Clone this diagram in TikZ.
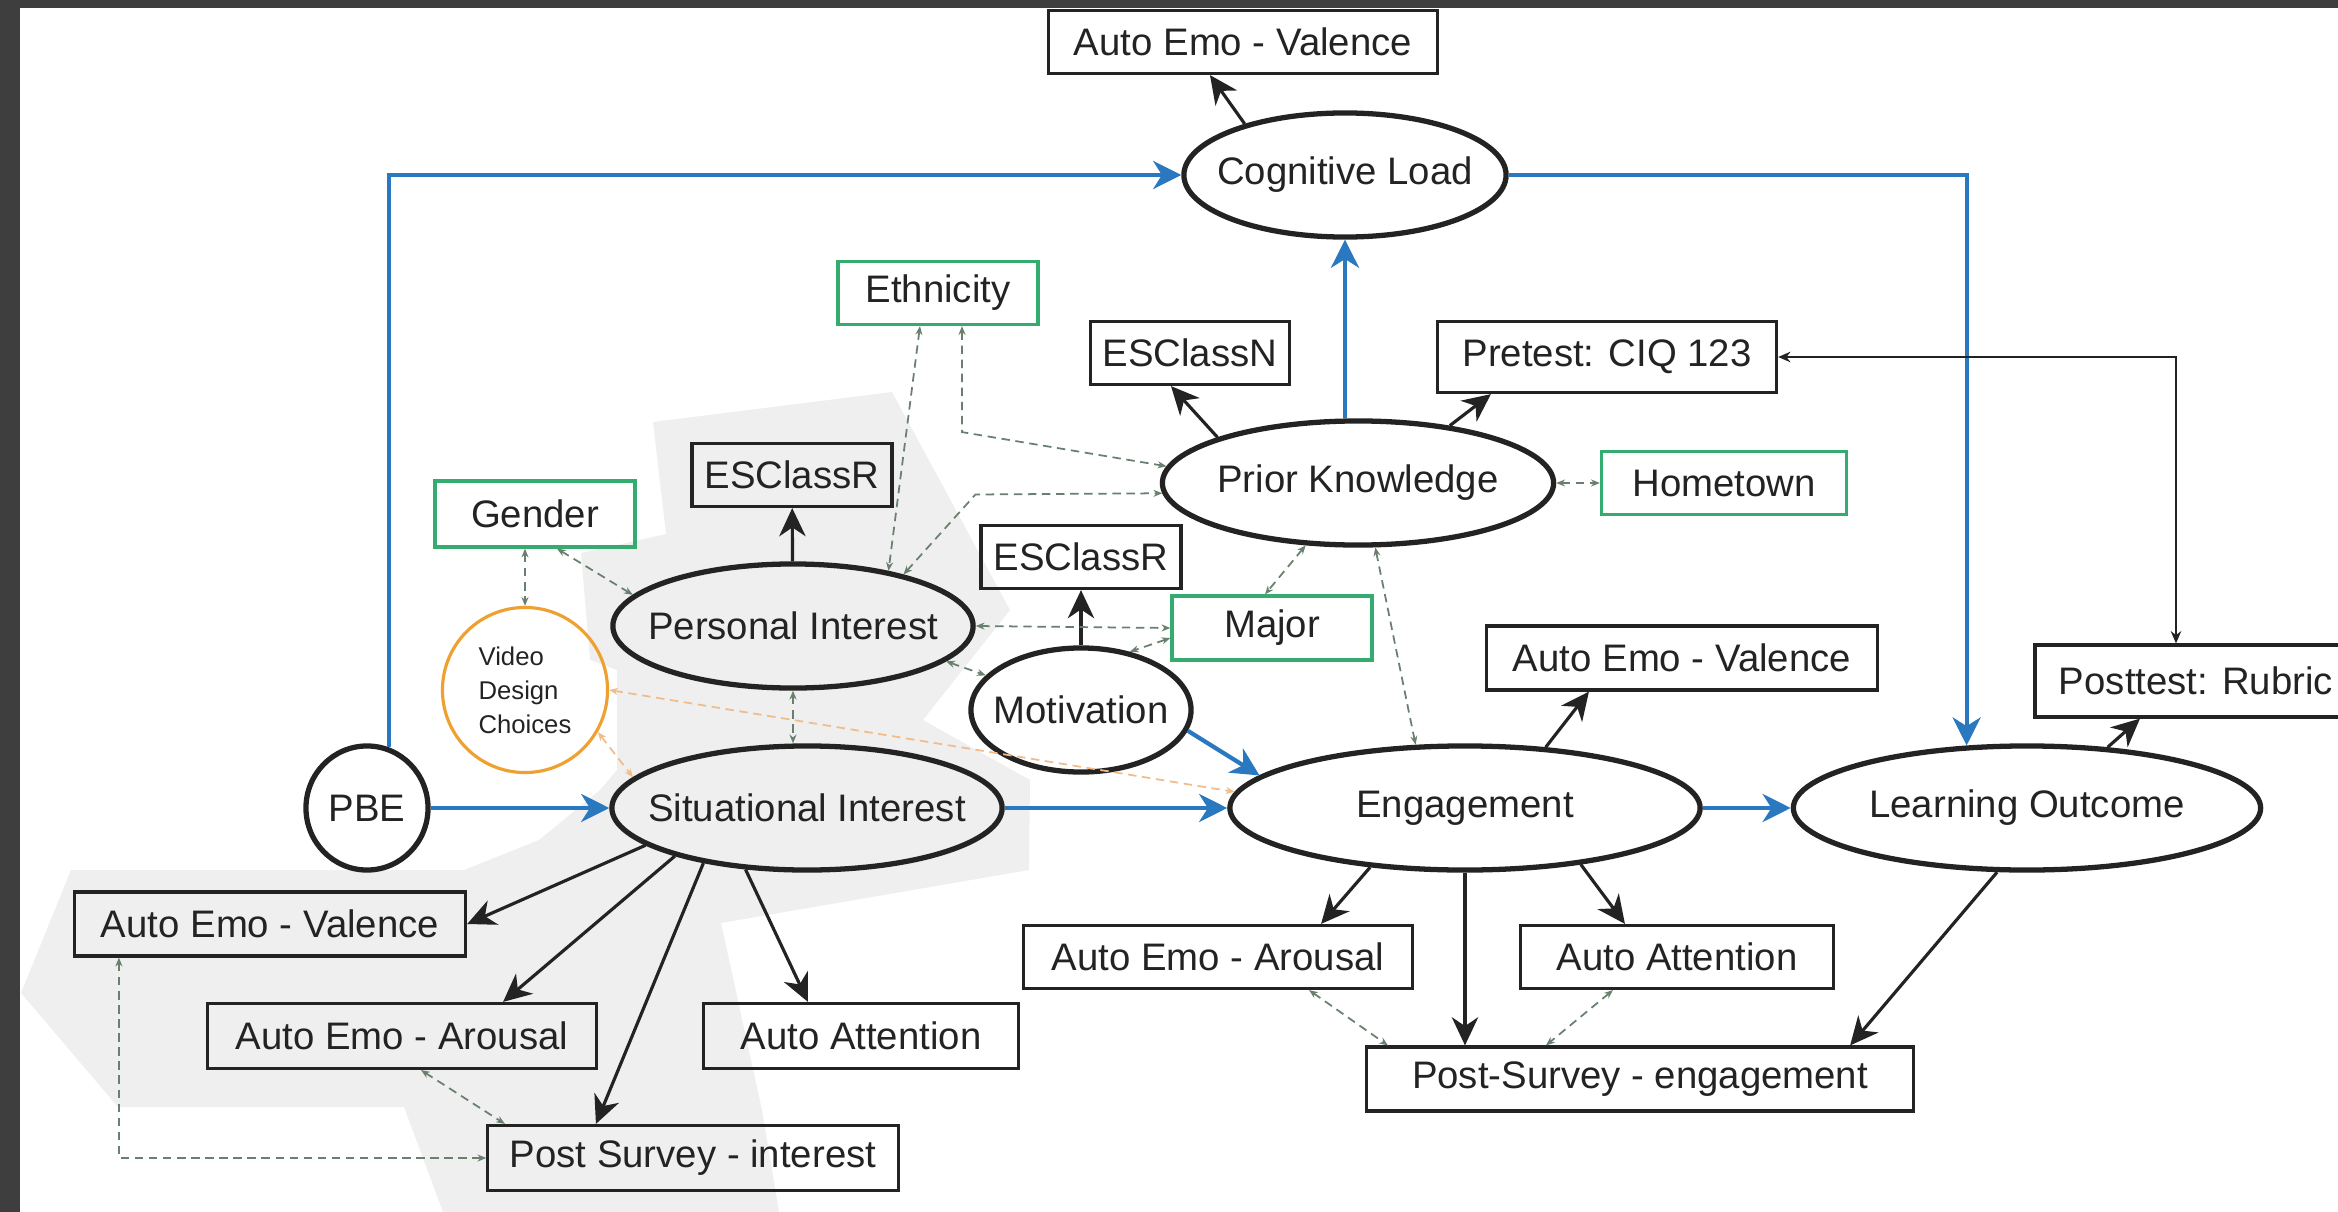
\documentclass[tikz,border=0pt]{standalone}
\usepackage{fontspec}
\setmainfont{Liberation Sans}
\usepackage{xcolor}
\usepackage{tikz}
\usetikzlibrary{positioning}
\usetikzlibrary{shapes.geometric}
\usetikzlibrary{arrows.meta}

\definecolor{pathblue}{RGB}{42,120,192}
\definecolor{demogreen}{RGB}{52,172,112}
\definecolor{designorange}{RGB}{238,160,48}
\definecolor{linkgray}{RGB}{105,128,110}
\definecolor{linkorange}{RGB}{240,188,138}
\definecolor{shadegray}{RGB}{239,239,239}
\definecolor{framegray}{RGB}{62,62,62}
\definecolor{inkgray}{RGB}{35,35,35}

\tikzset{
  latent/.style={ellipse, draw=inkgray, line width=1.5pt, inner xsep=-0.3cm, inner ysep=0pt, minimum height=1.24cm, text=inkgray},
  measure/.style={rectangle, draw=inkgray, line width=0.9pt, inner sep=0pt, minimum height=0.63cm, text=inkgray},
  demo/.style={measure, draw=demogreen},
  bluepath/.style={draw=pathblue, line width=1.2pt, arrows={-Stealth[length=8pt,width=8pt,inset=2.5pt]}},
  blackpath/.style={draw=inkgray, line width=0.9pt, arrows={-Stealth[length=8pt,width=7.5pt,inset=2.5pt]}},
  thinpath/.style={draw=inkgray, line width=0.45pt, arrows={Stealth[length=3.5pt,width=3pt]-Stealth[length=3.5pt,width=3pt]}},
  covlink/.style={draw=linkgray, line width=0.5pt, dash pattern=on 2.4pt off 1.6pt, arrows={Stealth[length=2.5pt,width=2pt]-Stealth[length=2.5pt,width=2pt]}},
  designlink/.style={covlink, draw=linkorange},
}

\begin{document}
\begin{tikzpicture}[x=0.01cm, y=-0.01cm, font=\fontsize{10.9}{13}\selectfont]
	\useasboundingbox (0,0) rectangle (2338,1212);
	\clip (0,0) rectangle (2338,1212);
	\fill[shadegray] (653,422) -- (892,392) -- (1010,610) -- (923,720) -- (1030,780) -- (1029,870) -- (721,923) -- (762,1110) -- (779,1212) -- (443,1212) -- (404,1107) -- (118,1107) -- (21,993) -- (71,870) -- (464,870) -- (539,840) -- (600,790) -- (617,770) -- (617,670) -- (590,660) -- (581,553) -- (666,534) -- cycle;
	\fill[framegray] (0,0) rectangle (2338,8);
	\fill[framegray] (0,0) rectangle (20,1212);

	\node[measure, minimum width=3.88cm] (aevTop) at (1243,42) {Auto Emo - Valence};
	\node[latent, minimum width=3.22cm] (cl) at (1345,175) {Cognitive Load};
	\node[demo, minimum width=2cm] (eth) at (938,293) {Ethnicity};
	\node[measure, minimum width=1.99cm] (esn) at (1190,353) {ESClassN};
	\node[measure, minimum width=3.39cm, minimum height=0.71cm] (pre) at (1607,357) {Pretest: CIQ 123};
	\node[latent, minimum width=3.91cm] (pk) at (1358,483) {Prior Knowledge};
	\node[demo, minimum width=2.45cm] (home) at (1724,483) {Hometown};
	\node[measure, minimum width=2cm] (esrPI) at (792,475) {ESClassR};
	\node[demo, minimum width=2cm, minimum height=0.66cm] (gender) at (535,514) {Gender};
	\node[measure, minimum width=2cm] (esrMot) at (1081,557) {ESClassR};
	\node[latent, minimum width=3.6cm] (pi) at (793,626) {Personal Interest};
	\node[demo, minimum width=2cm, minimum height=0.64cm] (major) at (1272,628) {Major};
	\node[circle, draw=designorange, line width=0.9pt, minimum size=1.65cm, inner sep=0pt, align=left, text=inkgray, font=\fontsize{7.3}{9.7}\selectfont] (vdc) at (525,690) {Video\\Design\\Choices};
	\node[latent, minimum width=2.2cm] (mot) at (1081,710) {Motivation};
	\node[measure, minimum width=3.9cm, minimum height=0.64cm] (aevEng) at (1682,658) {Auto Emo - Valence};
	\node[measure, minimum width=3.22cm, minimum height=0.72cm] (post) at (2196,681) {Posttest: Rubric};
	\node[latent, minimum width=1.22cm] (pbe) at (367,808) {PBE};
	\node[latent, minimum width=3.9cm] (si) at (807,808) {Situational Interest};
	\node[latent, minimum width=4.7cm] (eng) at (1465,808) {Engagement};
	\node[latent, minimum width=4.67cm] (lo) at (2027,808) {Learning Outcome};
	\node[measure, minimum width=3.91cm, minimum height=0.64cm] (aevSI) at (270,924) {Auto Emo - Valence};
	\node[measure, minimum width=3.88cm, minimum height=0.65cm] (aeaSI) at (402,1036) {Auto Emo - Arousal};
	\node[measure, minimum width=3.14cm, minimum height=0.65cm] (attSI) at (861,1036) {Auto Attention};
	\node[measure, minimum width=4.1cm, minimum height=0.65cm] (psi) at (693,1158) {Post Survey - interest};
	\node[measure, minimum width=3.88cm] (aeaEng) at (1218,957) {Auto Emo - Arousal};
	\node[measure, minimum width=3.13cm] (attEng) at (1677,957) {Auto Attention};
	\node[measure, minimum width=5.46cm, minimum height=0.64cm] (pse) at (1640,1079) {Post-Survey - engagement};

	\draw[bluepath] (pbe.70) |- (cl.west);
	\draw[bluepath] (pbe.east) -- (si.west);
	\draw[bluepath] (si.east) -- (eng.west);
	\draw[bluepath] (mot.349) -- (eng.171);
	\draw[bluepath] (eng.east) -- (lo.west);
	\draw[bluepath] (pk.north -| cl.south) -- (cl.south);
	\draw[bluepath] (cl.east) -| (lo.134);

	\draw[blackpath] (cl.153) -- ([xshift=-0.33cm]aevTop.south);
	\draw[blackpath] (pk.162) -- ([xshift=-0.19cm]esn.south);
	\draw[blackpath] (pk.32) -- ([xshift=-1.16cm]pre.south);
	\draw[blackpath] (pi) -- (esrPI);
	\draw[blackpath] (mot) -- (esrMot);
	\draw[blackpath] (si.193) -- (aevSI.east);
	\draw[blackpath] (si.200) -- ([xshift=1.01cm]aeaSI.north);
	\draw[blackpath] (si.208) -- ([xshift=-0.97cm]psi.north);
	\draw[blackpath] (si.225) -- ([xshift=-0.53cm]attSI.north);
	\draw[blackpath] (eng.37) -- ([xshift=-0.93cm]aevEng.south);
	\draw[blackpath] (eng.212) -- ([xshift=1.03cm]aeaEng.north);
	\draw[blackpath] (eng.south) -- (eng.south |- pse.north);
	\draw[blackpath] (eng.334) -- ([xshift=-0.52cm]attEng.north);
	\draw[blackpath] (lo.245) -- ([xshift=2.1cm]pse.north);
	\draw[blackpath] (lo.37) -- ([xshift=-0.56cm]post.south);
	\draw[thinpath] (pre.east) -| ([xshift=-0.2cm]post.north);

	\draw[covlink] (vdc.north |- gender.south) -- (vdc.north);
	\draw[covlink] ([xshift=0.22cm]gender.south) -- (pi.169);
	\draw[covlink] ([xshift=-0.18cm]eth.south) -- (pi.30);
	\draw[covlink] ([xshift=0.24cm]eth.south) -- ++(0,106) -- (pk.175);
	\draw[covlink] (pi.25) -- ++(72,-80) -- (pk.183);
	\draw[covlink] (pi.east) -- (major.west);
	\draw[covlink] (pi.347) -- (mot.160);
	\draw[covlink] ([yshift=-0.1cm]major.west) -- (mot.50);
	\draw[covlink] (pk.230) -- ([xshift=-0.07cm]major.north);
	\draw[covlink] (pk.285) -- (eng.128);
	\draw[covlink] (pk.east) -- (home.west);
	\draw[covlink] (pi.south) -- (pi.south |- si.north);
	\draw[covlink] ([xshift=0.19cm]aeaSI.south) -- ([xshift=-1.88cm]psi.north);
	\draw[covlink] ([xshift=-1.51cm]aevSI.south) |- (psi.west);
	\draw[covlink] ([xshift=0.91cm]aeaEng.south) -- ([xshift=-2.52cm]pse.north);
	\draw[covlink] ([xshift=-0.64cm]attEng.south) -- ([xshift=-0.94cm]pse.north);
	\draw[designlink] (vdc.east) -- (eng.176);
	\draw[designlink] (vdc.-30) -- (si.170);
\end{tikzpicture}
\end{document}
